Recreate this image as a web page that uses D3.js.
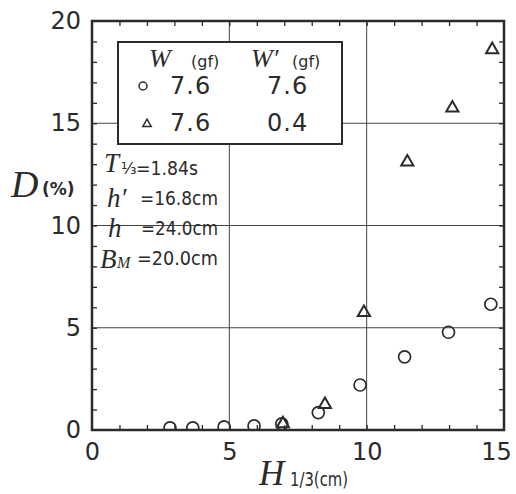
<!DOCTYPE html>
<html>
<head>
<meta charset="utf-8">
<script src="https://cdn.jsdelivr.net/npm/d3@7/dist/d3.min.js"></script>
<style>
  body { margin: 0; background: #fff; }
  svg { display: block; }
</style>
</head>
<body>
<div id="chart"></div>
<script>
// H1/3 (cm) and D (%)
const hCircle = [2.84, 3.67, 4.81, 5.90, 6.91, 8.24, 9.76, 11.38, 12.98, 14.52];
const dCircle = [0.1, 0.1, 0.15, 0.2, 0.3, 0.85, 2.2, 3.58, 4.78, 6.15];
const hTriangle = [6.95, 8.48, 9.90, 11.48, 13.12, 14.57];
const dTriangle = [0.3, 1.25, 5.75, 13.1, 15.75, 18.6];

const xTicks = [0, 5, 10, 15];
const yTicks = [0, 5, 10, 15, 20];
const xGrid = [5, 10];
const yGrid = [5, 10, 15];

const legendRows = [
  { symbol: 'circle', w: '7.6', w2: '7.6' },
  { symbol: 'triangle', w: '7.6', w2: '0.4' }
];

const W = 516, H = 494;
const margin = { top: 21, right: 12, bottom: 64, left: 92 };
const ink = '#2b2b2b';
const sans = '"DejaVu Sans", sans-serif';
const serif = '"Liberation Serif", "DejaVu Serif", serif';

const svg = d3.select('#chart').append('svg')
  .attr('width', W)
  .attr('height', H);

const x = d3.scaleLinear().domain([0, 15]).range([margin.left, W - margin.right]);
const y = d3.scaleLinear().domain([0, 20]).range([H - margin.bottom, margin.top]);

// grid lines
svg.append('g').selectAll('line')
  .data(xGrid).enter().append('line')
  .attr('x1', d => x(d)).attr('x2', d => x(d))
  .attr('y1', y(0)).attr('y2', y(20))
  .attr('stroke', '#444').attr('stroke-width', 1);

svg.append('g').selectAll('line')
  .data(yGrid).enter().append('line')
  .attr('x1', x(0)).attr('x2', x(15))
  .attr('y1', d => y(d)).attr('y2', d => y(d))
  .attr('stroke', '#444').attr('stroke-width', 1);

// minor ticks inside the frame on all sides
const minorX = d3.range(1, 15);
const minorY = d3.range(1, 20);
const tickAxis = (axis, transform) => {
  const g = svg.append('g').attr('transform', transform).call(axis);
  g.select('.domain').remove();
  g.selectAll('line').attr('stroke', ink).attr('stroke-width', 1.3);
};
tickAxis(d3.axisBottom(x).tickValues(minorX).tickSize(-5).tickFormat(''), `translate(0,${y(0)})`);
tickAxis(d3.axisTop(x).tickValues(minorX).tickSize(-5).tickFormat(''), `translate(0,${y(20)})`);
tickAxis(d3.axisLeft(y).tickValues(minorY).tickSize(-5).tickFormat(''), `translate(${x(0)},0)`);
tickAxis(d3.axisRight(y).tickValues(minorY).tickSize(-5).tickFormat(''), `translate(${x(15)},0)`);

// tick labels
const labelAxis = (axis, transform) => {
  const g = svg.append('g').attr('transform', transform).call(axis);
  g.select('.domain').remove();
  g.selectAll('line').remove();
  g.selectAll('text')
    .style('font-family', sans)
    .style('font-size', '24px')
    .attr('fill', ink);
  return g;
};
const xLab = labelAxis(d3.axisBottom(x).tickValues(xTicks).tickSize(0).tickPadding(13).tickFormat(d3.format('d')), `translate(0,${y(0)})`);
xLab.selectAll('text').filter(d => d === 15).attr('dx', -8);
labelAxis(d3.axisLeft(y).tickValues(yTicks).tickSize(0).tickPadding(11).tickFormat(d3.format('d')), `translate(${x(0)},0)`);

// frame
svg.append('rect')
  .attr('x', x(0)).attr('y', y(20))
  .attr('width', x(15) - x(0)).attr('height', y(0) - y(20))
  .attr('fill', 'none').attr('stroke', ink).attr('stroke-width', 2.5);

// data points, clipped to the plot area
svg.append('clipPath').attr('id', 'plot-clip')
  .append('rect')
  .attr('x', x(0)).attr('y', y(20))
  .attr('width', x(15) - x(0)).attr('height', y(0) - y(20) - 1);

const pts = svg.append('g').attr('clip-path', 'url(#plot-clip)');

pts.selectAll('.circ')
  .data(hCircle.map((h, i) => ({ h, d: dCircle[i] })))
  .enter().append('circle')
  .attr('class', 'circ')
  .attr('cx', d => x(d.h))
  .attr('cy', d => y(d.d))
  .attr('r', 6)
  .attr('fill', 'none')
  .attr('stroke', ink)
  .attr('stroke-width', 1.7);

const tri = d3.symbol().type(d3.symbolTriangle).size(64);
pts.selectAll('.tri')
  .data(hTriangle.map((h, i) => ({ h, d: dTriangle[i] })))
  .enter().append('path')
  .attr('class', 'tri')
  .attr('d', tri)
  .attr('transform', d => `translate(${x(d.h)},${y(d.d)})`)
  .attr('fill', 'none')
  .attr('stroke', ink)
  .attr('stroke-width', 2);

// legend box
const lg = svg.append('g');
lg.append('rect')
  .attr('x', 118).attr('y', 42)
  .attr('width', 224).attr('height', 102)
  .attr('fill', '#fff').attr('stroke', ink).attr('stroke-width', 2);

lg.append('text').attr('x', 149).attr('y', 67).attr('fill', ink)
  .style('font-family', serif).style('font-style', 'italic').style('font-size', '26px').text('W');
lg.append('text').attr('x', 191).attr('y', 67).attr('fill', ink)
  .style('font-family', sans).style('font-size', '16px').text('(gf)');
lg.append('text').attr('x', 251).attr('y', 67).attr('fill', ink)
  .style('font-family', serif).style('font-style', 'italic').style('font-size', '26px').text('W′');
lg.append('text').attr('x', 292).attr('y', 67).attr('fill', ink)
  .style('font-family', sans).style('font-size', '16px').text('(gf)');

const rowY = [86, 123];
legendRows.forEach((r, i) => {
  if (r.symbol === 'circle') {
    lg.append('circle').attr('cx', 143).attr('cy', rowY[i]).attr('r', 4)
      .attr('fill', 'none').attr('stroke', ink).attr('stroke-width', 1.5);
  } else {
    lg.append('path').attr('d', d3.symbol().type(d3.symbolTriangle).size(30))
      .attr('transform', `translate(147,${rowY[i] + 1})`)
      .attr('fill', 'none').attr('stroke', ink).attr('stroke-width', 1.5);
  }
  lg.append('text').attr('x', 170).attr('y', rowY[i] + 8)
    .style('font-family', sans).style('font-size', '24px').attr('fill', ink)
    .attr('letter-spacing', 1).text(r.w);
  lg.append('text').attr('x', 267).attr('y', rowY[i] + 8)
    .style('font-family', sans).style('font-size', '24px').attr('fill', ink)
    .attr('letter-spacing', 1).text(r.w2);
});

// experiment conditions
const cond = svg.append('g').attr('fill', ink);
const condLine = (sym, sub, val, symX, subX, valX, base, valBase) => {
  const t = cond.append('text').attr('y', base);
  t.append('tspan').attr('x', symX)
    .style('font-family', serif).style('font-style', 'italic').style('font-size', '27px')
    .text(sym);
  if (sub) {
    t.append('tspan').attr('x', subX).attr('dy', sub.dy)
      .style('font-family', sub.font).style('font-style', sub.italic ? 'italic' : 'normal')
      .style('font-size', sub.size).text(sub.text);
  }
  cond.append('text').attr('x', valX).attr('y', valBase)
    .style('font-family', sans).style('font-size', '20px')
    .attr('textLength', 218 - valX).attr('lengthAdjust', 'spacingAndGlyphs')
    .text(val);
};
condLine('T', { text: '⅓', dy: 2, size: '16px', font: sans }, '=1.84s', 104, 121, 136, 172, 175);
d3.select(cond.selectAll('text').nodes()[1]).attr('textLength', 62);
condLine('h′', null, '=16.8cm', 107, 0, 140, 207, 205);
condLine('h', null, '=24.0cm', 108, 0, 141, 237, 235);
condLine('B', { text: 'M', dy: 0, size: '16px', font: serif, italic: true }, '=20.0cm', 100, 117, 137, 268, 265);

// axis titles
const yl = svg.append('text').attr('fill', ink).attr('y', 197);
yl.append('tspan').attr('x', 11).style('font-family', serif).style('font-style', 'italic').style('font-size', '38px').text('D');
yl.append('tspan').attr('x', 42).attr('dy', -2).style('font-family', sans).style('font-weight', 'bold').style('font-size', '17px').text('(%)');

svg.append('text').attr('x', 259).attr('y', 485).attr('fill', ink)
  .style('font-family', serif).style('font-style', 'italic').style('font-size', '35px').text('H');
svg.append('text').attr('x', 290).attr('y', 486).attr('fill', ink)
  .style('font-family', sans).style('font-size', '19px')
  .attr('textLength', 58).attr('lengthAdjust', 'spacingAndGlyphs').text('1/3(cm)');
</script>
</body>
</html>
